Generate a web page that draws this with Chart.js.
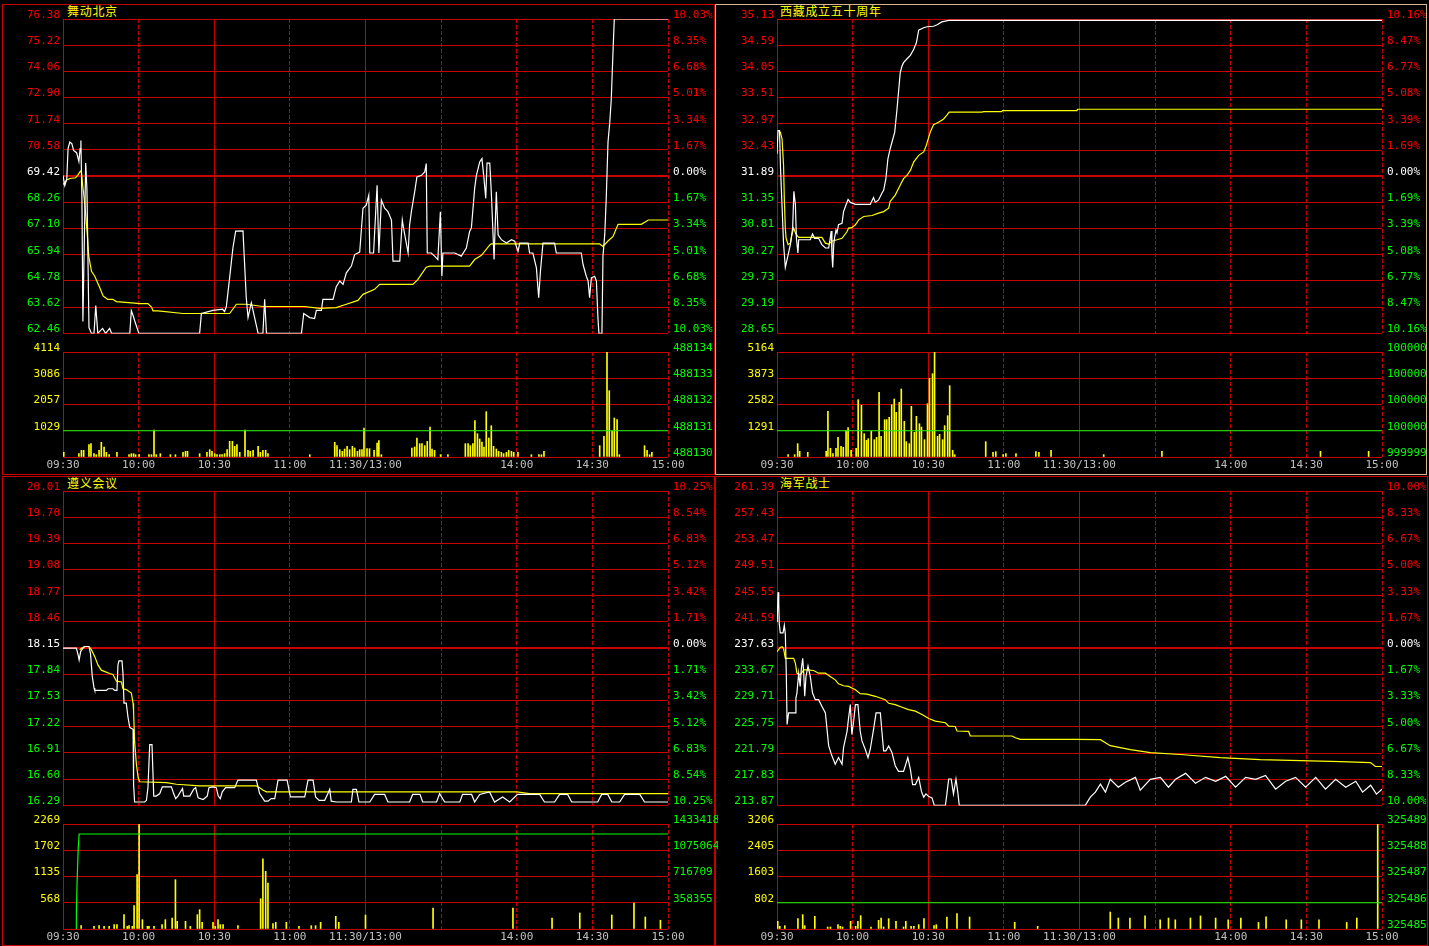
<!DOCTYPE html>
<html>
<head>
<meta charset="utf-8">
<script src="https://cdn.jsdelivr.net/npm/chart.js@4.4.1/dist/chart.umd.min.js"></script>
<style>
body { margin: 0; background: #000; width: 1429px; height: 946px; overflow: hidden; position: relative; }
.panel { position: absolute; box-sizing: border-box; border: 1px solid #c80000; }
.title { position: absolute; color: #ffff00; font: 12px "Noto Sans CJK SC"; letter-spacing: 0.7px; line-height: 13px; }
canvas { position: absolute; }
</style>
</head>
<body>
<div class="panel" style="left:2px;top:4px;width:713px;height:471px"></div>
<div class="panel" style="left:715px;top:4px;width:712px;height:471px;border-color:#d8b890"></div>
<div class="panel" style="left:2px;top:476px;width:713px;height:470px"></div>
<div class="panel" style="left:715px;top:476px;width:713px;height:470px"></div>
<div class="title" style="left:67px;top:4px">舞动北京</div>
<div class="title" style="left:780px;top:4px">西藏成立五十周年</div>
<div class="title" style="left:67px;top:476px">遵义会议</div>
<div class="title" style="left:780px;top:476px">海军战士</div>
<script>
// minutes since 09:30 (0..240, lunch break squeezed out)
const timeLabels = ["09:30", "10:00", "10:30", "11:00", "11:30/13:00", "", "14:00", "14:30", "15:00"];
const minuteTicks = [0, 30, 60, 90, 120, 150, 180, 210, 240];
const solidMinutes = [0, 60, 120];

// ---- 舞动北京 ----
const wdPrevClose = 69.42;
const wdPriceTicks = [76.38, 75.22, 74.06, 72.90, 71.74, 70.58, 69.42, 68.26, 67.10, 65.94, 64.78, 63.62, 62.46];
const wdPctTicks = ["10.03%", "8.35%", "6.68%", "5.01%", "3.34%", "1.67%", "0.00%", "1.67%", "3.34%", "5.01%", "6.68%", "8.35%", "10.03%"];
const wdVolTicks = [4114, 3086, 2057, 1029, 0];
const wdRightTicks = [488134, 488133, 488132, 488131, 488130];
const wdPrice = [[0,69.46],[0.7,69.0],[1.5,69.3],[2,70.64],[2.7,70.93],[3.5,70.86],[4.2,70.56],[5.4,70.46],[6.3,70.07],[6.8,70.64],[7.1,71.0],[7.5,68.44],[7.9,62.99],[9.0,70.0],[9.5,68.83],[10.3,62.72],[11.3,62.46],[12.3,62.46],[13.0,63.69],[13.8,62.46],[15.7,62.68],[16.9,62.46],[18.5,62.68],[19.3,62.46],[26.5,62.46],[27.1,63.47],[27.8,63.25],[28.4,63.03],[30.1,62.46],[54.2,62.46],[54.9,63.34],[59.5,63.48],[63.3,63.53],[64.1,63.43],[64.8,63.65],[66.1,64.92],[67.4,66.24],[68.5,66.99],[71.4,67.0],[72.7,64.04],[73.4,63.16],[74.7,63.82],[75.4,63.47],[77.4,62.46],[79.3,62.46],[80.0,63.97],[80.7,62.46],[94.6,62.46],[95.5,63.34],[97.9,63.16],[99.8,63.12],[100.5,63.48],[102.5,63.48],[103.1,63.97],[107.1,63.97],[108.4,64.53],[109.8,64.78],[111.1,64.63],[112.4,65.14],[114.4,65.44],[115.7,65.95],[117.7,66.06],[119.0,68.0],[120.3,68.14],[121.3,68.58],[121.7,66.02],[123.2,66.02],[124.6,69.02],[125.3,66.02],[126.3,68.36],[127.6,68.0],[128.9,67.85],[130.3,67.48],[130.9,65.66],[133.6,65.66],[134.6,67.48],[135.1,67.12],[136.9,66.02],[137.5,67.26],[138.2,67.85],[139.5,68.73],[140.4,69.39],[142.2,69.46],[143.5,69.61],[144.1,69.98],[144.5,66.02],[146.1,66.02],[147.4,65.88],[148.7,65.73],[149.7,67.85],[150.3,64.99],[150.7,66.02],[155.4,66.02],[158.0,65.88],[160.0,66.24],[161.3,66.97],[162.0,67.12],[163.3,68.88],[164.0,69.46],[165.3,70.05],[166.2,70.2],[167.0,69.32],[167.7,68.44],[168.2,70.0],[169.3,70.0],[169.9,68.73],[171.0,65.73],[171.9,68.73],[172.6,66.82],[173.9,66.61],[175.9,66.46],[177.9,66.61],[179.2,66.54],[180.5,66.09],[181.2,66.46],[184.5,66.46],[185.1,66.02],[186.4,66.02],[187.8,65.36],[188.7,64.04],[189.4,65.21],[190.4,66.46],[195.0,66.46],[195.7,66.02],[205.6,66.02],[206.3,65.51],[207.6,64.99],[208.3,64.78],[208.9,64.04],[209.6,64.92],[210.9,64.99],[211.6,64.78],[212.2,63.16],[212.6,62.46],[213.8,62.46],[214.2,65.88],[214.9,66.82],[215.5,68.44],[216.2,70.93],[216.9,71.81],[217.5,72.83],[217.9,74.08],[218.4,75.55],[218.7,76.38],[240,76.38]];
const wdAvg = [[0,69.05],[1.5,69.25],[2.7,69.32],[5,69.35],[5.8,69.46],[6.9,69.64],[7.3,69.6],[7.8,69.02],[8.7,68.14],[9.6,66.9],[10.2,65.89],[11.3,65.21],[12.6,64.99],[14.6,64.48],[15.9,64.12],[17.7,63.97],[19.7,63.97],[21.2,63.87],[28.4,63.8],[30.2,63.78],[33.7,63.78],[35.1,63.63],[35.7,63.46],[37.7,63.46],[47.6,63.34],[66.1,63.34],[68.8,63.75],[72.7,63.75],[79.3,63.65],[95.9,63.65],[101.8,63.57],[108.4,63.6],[112.4,63.75],[117.0,63.92],[119.0,64.19],[123.6,64.41],[125.6,64.63],[138.8,64.63],[140.8,64.85],[144.1,65.39],[145.5,65.44],[161.3,65.44],[163.3,65.73],[166.0,65.92],[169.3,66.38],[169.9,66.42],[212.9,66.42],[214.2,66.31],[216.2,66.55],[218.2,66.75],[220.2,67.29],[229.4,67.29],[232.2,67.48],[240,67.48]];
const wdVol = [[0.3,183],[6.3,130],[7.3,260],[8.2,260],[10.3,483],[11.1,522],[12.3,130],[13.2,91],[14.3,260],[15.2,575],[16.3,392],[17.2,183],[18.3,91],[21.4,183],[26.2,91],[27.1,130],[28,130],[28.8,91],[30.2,91],[34.1,91],[35.1,91],[36.1,1058],[37,91],[38.6,130],[42.6,91],[44.6,91],[47.6,183],[48.6,222],[49.4,222],[54.2,130],[57.1,183],[58.2,287],[59.1,222],[60.2,130],[61.1,91],[62.2,91],[63.1,91],[64.1,130],[65.1,287],[66.1,614],[67.2,614],[68.1,418],[69,483],[70.1,183],[72.2,1058],[73.4,260],[74.3,222],[75.4,260],[77.4,418],[78.3,183],[79.3,260],[80.4,260],[81.3,130],[97.9,91],[107.8,575],[108.7,444],[109.8,287],[110.8,222],[111.7,313],[112.7,418],[113.7,287],[114.8,418],[115.7,353],[116.8,222],[117.7,287],[118.6,287],[119.4,1136],[120.6,326],[121.6,326],[123.4,260],[124.6,548],[125.3,640],[126.3,91],[138.4,353],[139.5,392],[140.4,744],[141.5,522],[142.4,522],[143.5,444],[144.5,614],[145.6,1175],[146.4,313],[147.4,260],[149.8,91],[152.7,91],[159.6,522],[160.7,522],[161.6,444],[162.6,522],[163.4,1424],[164.4,914],[165.3,705],[166.2,588],[167,392],[167.9,1776],[168.9,744],[169.9,1228],[170.8,418],[171.9,313],[172.8,222],[173.9,183],[174.8,130],[175.9,183],[176.8,260],[177.9,222],[178.8,183],[180.5,183],[185.8,91],[188.8,91],[189.8,91],[190.8,222],[212.9,444],[214.6,810],[215.8,4114],[216.7,2599],[217.8,1006],[218.7,1528],[219.8,1463],[220.7,91],[230.7,444],[231.7,260],[232.7,91],[233.6,183]];
const wdGreen = [[0,488131],[240,488131]];

// ---- 西藏成立五十周年 ----
const xzPrevClose = 31.89;
const xzPriceTicks = [35.13, 34.59, 34.05, 33.51, 32.97, 32.43, 31.89, 31.35, 30.81, 30.27, 29.73, 29.19, 28.65];
const xzPctTicks = ["10.16%", "8.47%", "6.77%", "5.08%", "3.39%", "1.69%", "0.00%", "1.69%", "3.39%", "5.08%", "6.77%", "8.47%", "10.16%"];
const xzVolTicks = [5164, 3873, 2582, 1291, 0];
const xzRightTicks = [1000003, 1000002, 1000001, 1000000, 999999];
const xzPrice = [[0,32.35],[0.4,32.83],[1.0,32.83],[1.4,32.05],[2.6,30.5],[3.3,30.01],[4.4,30.27],[5.3,30.48],[6.2,30.82],[6.7,31.58],[7.3,31.30],[7.7,30.61],[8.3,30.31],[8.6,30.58],[9.2,30.58],[13.2,30.58],[14.1,30.70],[14.9,30.61],[16.5,30.61],[17.8,30.48],[19.2,30.41],[20.5,30.41],[21.1,30.61],[21.5,30.76],[21.8,30.27],[22.1,30.01],[22.5,30.48],[22.8,30.61],[23.4,30.78],[23.8,30.72],[24.4,30.89],[25.8,30.92],[26.4,31.16],[27.4,31.30],[28.2,31.41],[29.1,31.35],[31.1,31.31],[37.0,31.31],[38.3,31.45],[39.0,31.35],[40.3,31.40],[41.6,31.54],[42.3,31.60],[43.2,31.84],[44.0,32.25],[44.9,32.46],[45.6,32.59],[46.7,32.80],[47.6,33.27],[48.2,33.62],[48.9,34.03],[49.6,34.16],[50.2,34.23],[51.6,34.31],[52.9,34.38],[54.2,34.50],[55.3,34.64],[56.2,34.90],[58.2,34.95],[59.5,34.97],[62.1,34.98],[63.5,35.01],[65.4,35.07],[68.1,35.10],[240,35.10]];
const xzAvg = [[0.6,32.83],[1.3,32.80],[2.0,32.66],[2.6,32.11],[2.9,31.43],[3.3,30.82],[3.6,30.61],[4.4,30.48],[5.3,30.51],[5.9,30.68],[6.6,30.82],[7.5,30.70],[8.6,30.63],[17.8,30.63],[19.2,30.51],[20.5,30.49],[21.8,30.55],[23.8,30.58],[25.8,30.61],[27.8,30.75],[28.4,30.82],[29.7,30.83],[31.1,30.89],[32.4,30.99],[34.4,31.06],[37.7,31.08],[40.3,31.13],[42.3,31.16],[44.3,31.23],[44.9,31.37],[46.9,31.5],[48.9,31.71],[50.2,31.84],[51.6,31.91],[52.9,32.01],[54.2,32.18],[56.2,32.32],[58.2,32.39],[59.2,32.52],[60.8,32.80],[62.1,32.95],[64.1,33.0],[66.1,33.07],[67.4,33.15],[68.3,33.21],[81.3,33.21],[82.0,33.22],[89.0,33.22],[89.5,33.24],[119.0,33.24],[119.2,33.27],[240,33.27]];
const xzVol = [[4.4,115],[7.0,115],[8.2,656],[9.0,279],[12.2,229],[19.5,279],[20.2,2245],[21.2,426],[22.2,164],[23.4,426],[24.2,967],[25.4,524],[26.3,475],[27.4,1295],[28.2,1442],[29.4,328],[31.4,426],[32.2,2819],[33.5,2540],[34.6,1147],[35.5,820],[36.2,901],[37.4,1262],[38.6,852],[39.5,967],[40.5,3180],[41.3,1016],[42.7,1836],[43.5,1836],[44.5,1950],[45.5,2573],[46.5,2852],[47.3,2196],[48.5,2688],[49.3,3344],[50.5,1754],[51.3,754],[52.5,656],[53.3,2491],[54.5,1213],[55.3,2000],[56.5,1639],[57.3,1475],[58.5,852],[59.7,2622],[60.5,3868],[61.7,4098],[62.5,5164],[63.7,1016],[64.5,1115],[65.7,852],[66.5,1541],[67.7,2032],[68.5,3508],[69.7,328],[70.5,115],[82.8,754],[85.7,229],[86.8,262],[89.7,115],[90.8,164],[94.8,164],[102.7,262],[103.9,229],[108.7,328],[129.6,115],[152.7,279],[215.6,279],[234.7,279]];
const xzGreen = [[0,1000000],[240,1000000]];

// ---- 遵义会议 ----
const zyPrevClose = 18.15;
const zyPriceTicks = [20.01, 19.70, 19.39, 19.08, 18.77, 18.46, 18.15, 17.84, 17.53, 17.22, 16.91, 16.60, 16.29];
const zyPctTicks = ["10.25%", "8.54%", "6.83%", "5.12%", "3.42%", "1.71%", "0.00%", "1.71%", "3.42%", "5.12%", "6.83%", "8.54%", "10.25%"];
const zyVolTicks = [2269, 1702, 1135, 568, 0];
const zyRightTicks = [1433418, 1075064, 716709, 358355, 0];
const zyPrice = [[0,18.15],[5.3,18.15],[6.0,18.07],[6.4,18.01],[7.0,18.11],[7.9,18.15],[8.6,18.17],[10.3,18.17],[10.9,18.09],[11.6,17.82],[12.3,17.68],[12.6,17.65],[17.2,17.65],[17.9,17.67],[19.8,17.67],[20.5,17.65],[21.4,17.65],[21.8,17.95],[22.2,18.0],[23.4,18.0],[23.8,17.85],[24.2,17.5],[25.1,17.5],[25.8,17.33],[26.5,17.21],[27.8,17.19],[28.0,16.54],[28.4,16.33],[32.4,16.33],[33.1,16.35],[33.7,16.5],[34.4,17.01],[35.3,17.01],[36.0,16.40],[37.0,16.40],[38.4,16.43],[39.4,16.51],[43.0,16.51],[43.9,16.43],[44.7,16.37],[45.6,16.40],[47.4,16.49],[47.9,16.40],[50.3,16.40],[51.8,16.48],[52.6,16.50],[53.6,16.38],[55.6,16.36],[57.2,16.40],[57.9,16.50],[59.5,16.51],[60.8,16.50],[61.6,16.40],[62.4,16.37],[63.2,16.45],[64.5,16.50],[68.1,16.50],[69.4,16.59],[76.7,16.59],[78.0,16.43],[80.0,16.34],[81.3,16.34],[82.6,16.37],[84.0,16.37],[85.3,16.59],[88.9,16.59],[90.2,16.39],[95.9,16.39],[97.2,16.59],[99.2,16.59],[100.2,16.39],[101.6,16.35],[103.8,16.35],[105.1,16.43],[105.8,16.48],[106.4,16.34],[108.4,16.33],[114.4,16.33],[115.0,16.48],[116.4,16.48],[117.4,16.33],[121.7,16.33],[123.6,16.42],[127.6,16.42],[128.9,16.33],[137.5,16.33],[138.7,16.42],[141.6,16.42],[142.7,16.33],[148.2,16.33],[149.4,16.43],[151.4,16.33],[157.4,16.33],[158.5,16.42],[162.1,16.42],[163.3,16.33],[165.3,16.42],[169.2,16.45],[171.2,16.33],[174.4,16.39],[177.2,16.33],[180.3,16.42],[189.1,16.42],[191.0,16.33],[195.0,16.33],[197.0,16.42],[200.2,16.42],[201.8,16.33],[212.1,16.33],[213.7,16.42],[216.1,16.42],[217.7,16.33],[220.8,16.33],[222.8,16.42],[228.8,16.42],[230.7,16.33],[240,16.33]];
const zyAvg = [[6.6,18.13],[7.3,18.15],[8.6,18.17],[10.3,18.17],[11.3,18.13],[12.6,18.05],[13.9,17.95],[15.2,17.89],[16.9,17.87],[18.5,17.85],[19.8,17.84],[21.2,17.76],[23.2,17.75],[23.8,17.67],[25.1,17.66],[27.1,17.62],[27.8,17.50],[28.0,17.40],[28.4,17.05],[29.1,16.78],[29.8,16.62],[30.4,16.57],[41.0,16.56],[45.0,16.54],[54.2,16.52],[76.7,16.52],[78.0,16.50],[79.4,16.47],[80.7,16.45],[180,16.45],[185,16.43],[240,16.43]];
const zyVol = [[7.2,72],[12.3,58],[14.3,72],[16.3,58],[18.3,58],[20.3,94],[21.4,94],[24.2,310],[25.5,58],[26.2,72],[27.5,58],[28.2,504],[29.4,1174],[30.2,2269],[31.5,202],[33.5,58],[34.1,58],[36.1,58],[39.3,94],[40.6,202],[43.3,238],[44.6,1066],[45.3,166],[48.6,166],[50.5,58],[53.3,310],[54.2,418],[55.2,144],[59.5,144],[60.4,58],[61.5,202],[62.4,94],[63.5,94],[69.4,72],[78.4,655],[79.3,1519],[80.4,1246],[81.3,994],[83.3,115],[84.4,144],[88.6,144],[93.6,58],[98.5,72],[100.2,72],[102.2,144],[108.2,274],[109.4,144],[120.0,302],[146.8,454],[178.5,454],[194,238],[205,346],[217.7,302],[226.5,562],[231,260],[237,190]];
const zyGreen = [[5.3,0],[5.3,218000],[5.6,650000],[6.0,1073000],[6.4,1297000],[240,1297000]];

// ---- 海军战士 ----
const hjPrevClose = 237.63;
const hjPriceTicks = [261.39, 257.43, 253.47, 249.51, 245.55, 241.59, 237.63, 233.67, 229.71, 225.75, 221.79, 217.83, 213.87];
const hjPctTicks = ["10.00%", "8.33%", "6.67%", "5.00%", "3.33%", "1.67%", "0.00%", "1.67%", "3.33%", "5.00%", "6.67%", "8.33%", "10.00%"];
const hjVolTicks = [3206, 2405, 1603, 802, 0];
const hjRightTicks = [325489, 325488, 325487, 325486, 325485];
const hjPrice = [[0.1,241.60],[0.4,246.10],[0.7,244.35],[0.9,241.35],[1.3,239.95],[2.4,239.95],[2.9,241.09],[3.3,239.8],[3.7,233.6],[4.0,226.1],[4.6,227.85],[7.3,227.85],[7.5,230.1],[7.9,230.85],[8.6,233.85],[9.2,231.86],[9.6,234.35],[10.2,236.1],[10.6,233.85],[11.0,230.36],[11.5,233.36],[12.3,234.95],[13.2,233.36],[14.1,230.85],[15.2,229.85],[16.5,229.85],[17.8,228.86],[19.2,227.85],[20.5,222.86],[21.8,221.36],[23.1,220.1],[24.4,221.1],[25.8,220.1],[26.4,222.61],[27.8,225.11],[28.4,227.1],[29.1,229.1],[29.7,224.6],[30.4,226.61],[31.1,229.1],[32.1,229.1],[33.0,225.11],[33.7,223.61],[35.0,222.36],[36.1,221.1],[37.0,222.36],[38.3,225.35],[39.3,227.85],[41.0,227.85],[41.6,225.11],[42.3,222.11],[43.2,222.11],[44.3,222.86],[45.6,221.86],[46.9,219.86],[48.2,219.01],[50.2,219.01],[51.9,221.1],[52.9,219.36],[53.8,217.02],[54.9,217.02],[56.2,218.11],[57.3,215.98],[58.2,215.11],[59.1,215.61],[60.2,215.2],[61.5,215.0],[62.4,213.87],[66.8,213.87],[67.4,215.61],[68.1,217.86],[69.1,217.86],[70.0,215.61],[71.0,217.86],[71.8,215.61],[72.3,213.87],[122.3,213.87],[124.3,215.12],[126.3,215.87],[128.3,217.07],[130.3,215.87],[132.2,217.81],[135.4,216.62],[138.2,217.37],[142.2,218.11],[144.1,216.17],[148.1,217.81],[152.1,218.11],[155.3,216.62],[158.1,217.81],[162.1,218.71],[166.0,217.22],[170.0,218.11],[174.0,217.52],[178.0,218.26],[181.9,216.62],[185.9,218.11],[189.9,217.81],[193.8,218.41],[197.8,216.32],[201.8,217.52],[205.7,218.11],[209.7,216.62],[213.7,218.11],[217.6,216.32],[221.6,217.81],[225.6,216.62],[229.6,217.52],[232.3,215.87],[235.5,216.92],[237.8,215.57],[240,216.32]];
const hjAvg = [[0,237.11],[0.7,237.45],[1.3,237.75],[2.0,237.85],[2.6,237.6],[3.3,236.1],[6.6,236.1],[7.3,235.35],[7.9,233.85],[9.2,233.6],[10.6,234.35],[11.9,234.35],[14.5,234.26],[16.5,233.85],[19.2,233.85],[21.1,233.36],[23.1,232.85],[24.4,232.25],[26.4,231.95],[28.4,231.86],[31.1,231.35],[33.0,230.75],[35.7,230.7],[39.0,230.36],[41.0,230.1],[42.9,229.85],[44.3,229.3],[46.9,229.1],[49.6,228.71],[52.2,228.35],[54.9,228.11],[57.5,227.6],[60.2,227.0],[62.8,226.61],[66.8,226.36],[68.1,225.86],[70.7,225.8],[71.4,225.11],[76.0,225.05],[76.7,224.36],[93.2,224.36],[94.6,224.1],[96.5,223.86],[118.3,223.86],[128.3,223.8],[132.2,222.9],[140.2,222.3],[148.1,221.86],[160.0,221.56],[175.8,221.1],[191.7,220.8],[207.6,220.65],[223.5,220.5],[235.4,220.35],[237.4,219.75],[240,219.75]];
const hjVol = [[0.3,234],[1.1,81],[3.1,102],[8.3,316],[10.2,438],[11.0,102],[15.0,387],[20.1,61],[21.2,61],[24.2,132],[25.1,81],[26.0,61],[29.2,234],[31.2,81],[32.1,234],[33.2,407],[37.3,61],[40.3,265],[41.3,336],[42.3,61],[44.3,316],[47.2,234],[50.2,61],[51.1,234],[53.2,81],[54.3,81],[56.2,132],[58.3,316],[62.3,102],[63.2,132],[67.4,367],[71.4,468],[76.4,367],[94.3,204],[103.4,81],[132.2,519],[135.4,336],[140,336],[146,400],[152,280],[155.3,336],[158,280],[164,336],[168,400],[174,336],[179,280],[184,336],[191,200],[194,370],[202,280],[208,280],[215,280],[226,200],[230,336],[238.3,3206]];
const hjGreen = [[0,325486],[240,325486]];

const GRID = "#c80000";
const FONT = { family: "DejaVu Sans Mono", size: 11 };

function pts(list) {
    return list.map(p => ({ x: p[0], y: p[1] }));
}

function levelColor(prev) {
    return ctx => {
        const v = ctx.tick ? ctx.tick.value : prev;
        if (Math.abs(v - prev) < 1e-6) return "#ffffff";
        return v > prev ? "#ff0000" : "#00ff00";
    };
}

function minuteAxis(showLabels) {
    return {
        type: "linear",
        min: 0,
        max: 240,
        offset: false,
        afterBuildTicks: s => { s.ticks = minuteTicks.map(v => ({ value: v })); },
        afterFit: s => { s.height = showLabels ? 18 : 0; },
        grid: { color: GRID, drawTicks: false, offset: false },
        border: {
            display: false,
            dash: ctx => (ctx.tick && solidMinutes.includes(ctx.tick.value)) ? [] : [4, 2],
        },
        ticks: {
            display: showLabels,
            autoSkip: false,
            maxRotation: 0,
            padding: 2,
            color: "#c0c0c0",
            font: FONT,
            callback: v => timeLabels[Math.round(v / 30)],
        },
    };
}

function levelAxis(position, values, labels, width, color, prev) {
    const asc = values.slice().reverse();
    const names = labels.slice().reverse();
    return {
        type: "linear",
        position: position,
        min: asc[0],
        max: asc[asc.length - 1],
        afterBuildTicks: s => { s.ticks = asc.map(v => ({ value: v })); },
        afterFit: s => { s.width = width; },
        grid: {
            color: GRID,
            drawTicks: false,
            drawOnChartArea: position === "left",
            lineWidth: ctx => (prev !== null && ctx.tick && Math.abs(ctx.tick.value - prev) < 1e-6) ? 2 : 1,
        },
        border: { display: false },
        ticks: {
            autoSkip: false,
            font: FONT,
            padding: position === "left" ? 3 : 5,
            labelOffset: -4,
            color: color,
            callback: (v, i) => names[i],
        },
    };
}

function addCanvas(left, top, w, h) {
    const c = document.createElement("canvas");
    c.width = w;
    c.height = h;
    c.style.left = left + "px";
    c.style.top = top + "px";
    document.body.appendChild(c);
    return c;
}

const baseOptions = {
    responsive: false,
    animation: false,
    events: [],
    plugins: { legend: { display: false }, tooltip: { enabled: false } },
};

function drawPanel(p) {
    const rightWidth = p.width - p.axisWidth - 605;

    new Chart(addCanvas(p.left, p.top, p.width, 345), {
        type: "line",
        data: {
            datasets: [
                { data: pts(p.price), borderColor: "#ffffff", borderWidth: 1.2, pointRadius: 0, tension: 0, yAxisID: "y" },
                { data: pts(p.avg), borderColor: "#ffff00", borderWidth: 1.2, pointRadius: 0, tension: 0, yAxisID: "y" },
            ],
        },
        options: Object.assign({}, baseOptions, {
            layout: { padding: { top: 19, bottom: 9, left: 0, right: 0 } },
            scales: {
                x: minuteAxis(false),
                y: levelAxis("left", p.priceTicks, p.priceTicks.map(v => v.toFixed(2)), p.axisWidth, levelColor(p.prevClose), p.prevClose),
                y1: levelAxis("right", p.priceTicks, p.pctTicks, rightWidth, levelColor(p.prevClose), null),
            },
        }),
    });

    new Chart(addCanvas(p.left, p.top + 338, p.width, 137), {
        type: "bar",
        data: {
            datasets: [
                { type: "line", data: pts(p.green), borderColor: "#00ff00", borderWidth: 1.2, pointRadius: 0, tension: 0, yAxisID: "y1" },
                { data: pts(p.vol), backgroundColor: "#ffff00", barThickness: 1, yAxisID: "y" },
            ],
        },
        options: Object.assign({}, baseOptions, {
            layout: { padding: { top: 14, bottom: 0, left: 0, right: 0 } },
            scales: {
                x: minuteAxis(true),
                y: levelAxis("left", p.volTicks, p.volTicks.map(v => v === 0 ? "" : String(v)), p.axisWidth, "#ffff00", null),
                y1: levelAxis("right", p.rightTicks, p.rightTicks.map(v => v === 0 ? "" : String(v)), rightWidth, "#00ff00", null),
            },
        }),
    });
}

drawPanel({ left: 0, top: 0, width: 718, axisWidth: 63, prevClose: wdPrevClose, priceTicks: wdPriceTicks, pctTicks: wdPctTicks,
    price: wdPrice, avg: wdAvg, volTicks: wdVolTicks, rightTicks: wdRightTicks, vol: wdVol, green: wdGreen });
drawPanel({ left: 713, top: 0, width: 713, axisWidth: 64, prevClose: xzPrevClose, priceTicks: xzPriceTicks, pctTicks: xzPctTicks,
    price: xzPrice, avg: xzAvg, volTicks: xzVolTicks, rightTicks: xzRightTicks, vol: xzVol, green: xzGreen });
drawPanel({ left: 0, top: 472, width: 718, axisWidth: 63, prevClose: zyPrevClose, priceTicks: zyPriceTicks, pctTicks: zyPctTicks,
    price: zyPrice, avg: zyAvg, volTicks: zyVolTicks, rightTicks: zyRightTicks, vol: zyVol, green: zyGreen });
drawPanel({ left: 713, top: 472, width: 713, axisWidth: 64, prevClose: hjPrevClose, priceTicks: hjPriceTicks, pctTicks: hjPctTicks,
    price: hjPrice, avg: hjAvg, volTicks: hjVolTicks, rightTicks: hjRightTicks, vol: hjVol, green: hjGreen });
</script>
</body>
</html>
